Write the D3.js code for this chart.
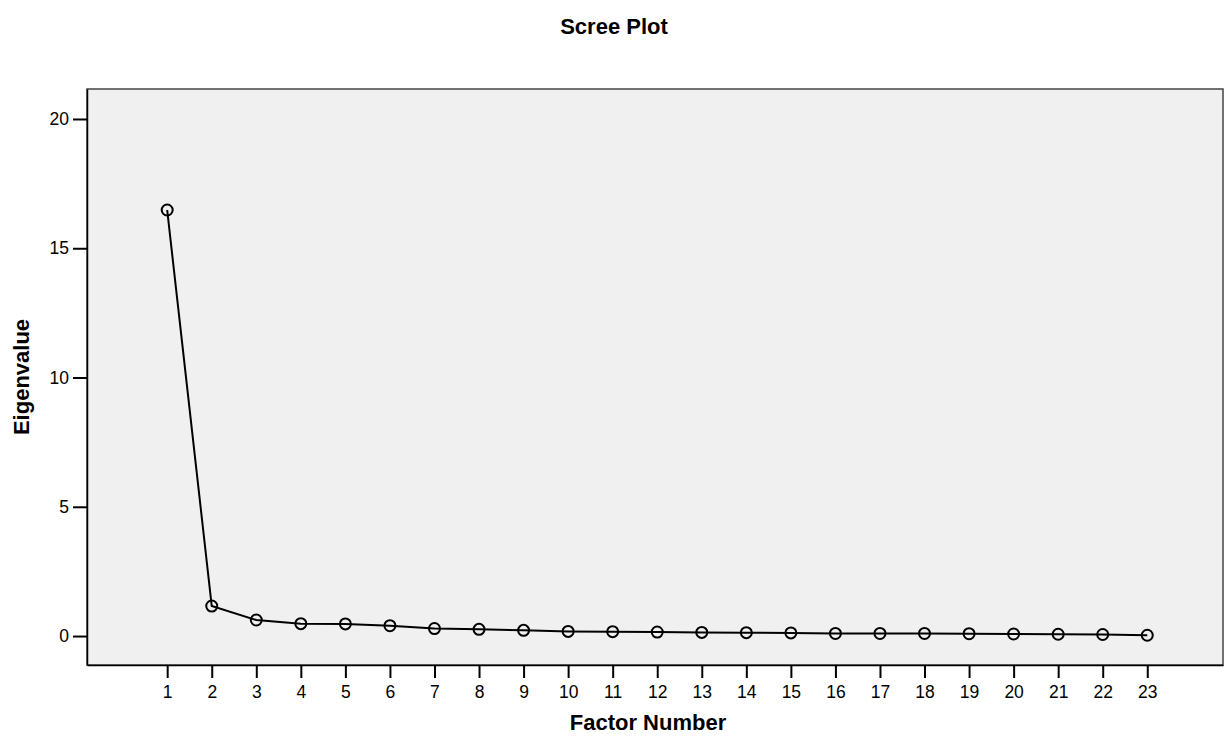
<!DOCTYPE html>
<html>
<head>
<meta charset="utf-8">
<script src="https://cdn.jsdelivr.net/npm/d3@7"></script>
<style>
body { margin: 0; background: #fff; }
text { font-family: "Liberation Sans", Arial, sans-serif; }
</style>
</head>
<body>
<script>
const w = 1231;
const h = 742;

// factor numbers and eigenvalues
const factors = d3.range(1, 24);
const eigenvalues = [16.48, 1.16, 0.62, 0.48, 0.47, 0.40, 0.29, 0.26, 0.22, 0.18, 0.17, 0.155,
  0.14, 0.13, 0.12, 0.10, 0.10, 0.10, 0.09, 0.08, 0.07, 0.06, 0.03];
const yTicks = [0, 5, 10, 15, 20];

const plot = {left: 87, top: 89, right: 1223, bottom: 665};

const x = d3.scaleLinear().domain([-0.8, 24.7]).range([plot.left, plot.right]);
const y = d3.scaleLinear().domain([-1.12, 21.16]).range([plot.bottom, plot.top]);

let svg = d3.select("body").append("svg")
  .attr("width", w)
  .attr("height", h);

svg.append("rect")
  .attr("x", plot.left).attr("y", plot.top)
  .attr("width", plot.right - plot.left).attr("height", plot.bottom - plot.top)
  .attr("fill", "#f0f0f0")
  .attr("stroke", "#444").attr("stroke-width", 1.5);

// x axis
let xAxis = svg.append("g")
  .attr("transform", "translate(0," + plot.bottom + ")")
  .call(d3.axisBottom(x).tickValues(factors).tickSize(13).tickSizeOuter(0)
    .tickPadding(8).tickFormat(d3.format("d")));
xAxis.select(".domain").attr("stroke", "#000").attr("stroke-width", 1.5);
xAxis.selectAll(".tick line").attr("stroke-width", 2);
xAxis.selectAll("text").attr("fill", "#000")
  .style("font-size", "17.5px")
  .style("font-family", "'Liberation Sans', Arial, sans-serif");

// y axis
let yAxis = svg.append("g")
  .attr("transform", "translate(" + plot.left + ",0)")
  .call(d3.axisLeft(y).tickValues(yTicks).tickSize(14).tickSizeOuter(0).tickPadding(4));
yAxis.select(".domain").attr("stroke", "#000").attr("stroke-width", 1.5);
yAxis.selectAll(".tick line").attr("stroke-width", 2);
yAxis.selectAll("text").attr("fill", "#000")
  .style("font-size", "17.5px")
  .style("font-family", "'Liberation Sans', Arial, sans-serif");

const data = factors.map((f, i) => ({f: f, v: eigenvalues[i]}));

svg.append("path")
  .datum(data)
  .attr("fill", "none")
  .attr("stroke", "#000")
  .attr("stroke-width", 2)
  .attr("d", d3.line().x(d => x(d.f)).y(d => y(d.v)));

svg.selectAll("circle.pt")
  .data(data)
  .join("circle")
  .attr("class", "pt")
  .attr("cx", d => x(d.f))
  .attr("cy", d => y(d.v))
  .attr("r", 5.5)
  .attr("fill", "none")
  .attr("stroke", "#000")
  .attr("stroke-width", 2);

svg.append("text")
  .attr("x", 614).attr("y", 34)
  .attr("text-anchor", "middle")
  .style("font-size", "22px").attr("font-weight", "bold")
  .text("Scree Plot");

svg.append("text")
  .attr("x", 648).attr("y", 730)
  .attr("text-anchor", "middle")
  .style("font-size", "22px").attr("font-weight", "bold")
  .text("Factor Number");

svg.append("text")
  .attr("transform", "translate(29,377) rotate(-90)")
  .attr("text-anchor", "middle")
  .style("font-size", "22px").attr("font-weight", "bold")
  .text("Eigenvalue");
</script>
</body>
</html>
